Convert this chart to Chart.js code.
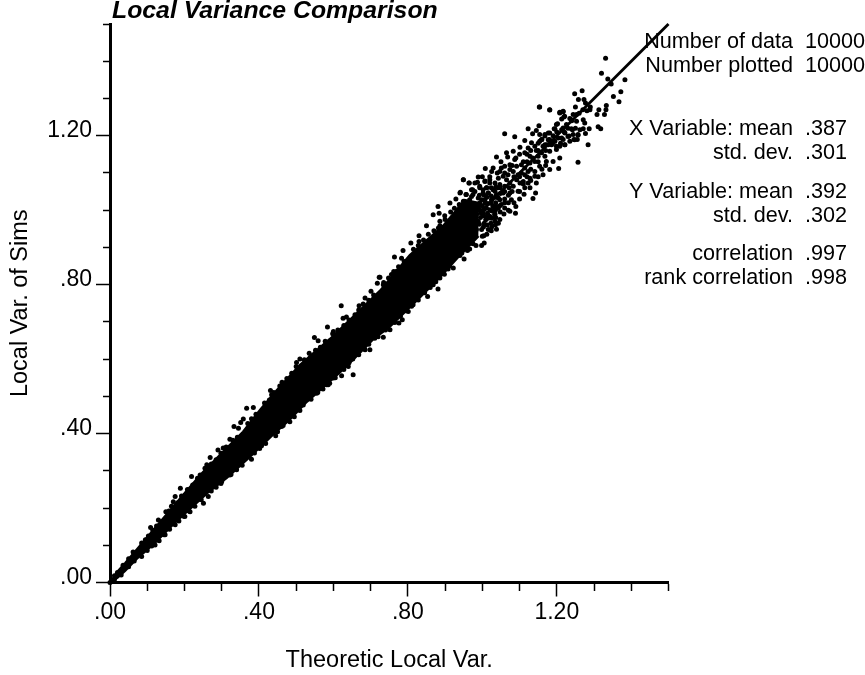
<!DOCTYPE html>
<html>
<head>
<meta charset="utf-8">
<title>Local Variance Comparison</title>
<style>
  html, body { margin: 0; padding: 0; background: #fff; }
  canvas { display: block; }
</style>
<script src="https://cdn.jsdelivr.net/npm/chart.js@4/dist/chart.umd.min.js"></script>
</head>
<body>
<canvas id="chart" width="865" height="675"></canvas>
<script>
const titleText = 'Local Variance Comparison'
const xAxisTitle = 'Theoretic Local Var.'
const yAxisTitle = 'Local Var. of Sims'
const tickLabels = ['.00', '.40', '.80', '1.20']

const statLabels = ['Number of data', 'Number plotted', 'X Variable: mean', 'std. dev.', 'Y Variable: mean', 'std. dev.', 'correlation', 'rank correlation']
const statValues = ['10000', '10000', '.387', '.301', '.392', '.302', '.997', '.998']

// 45 degree reference line
const lineX = [0, 1.5]
const lineY = [0, 1.5]

// edges of the part of the cloud where the dots merge solid
const bodyUpper = [[0,0],[.02,.03],[.04,.052],[.075,.093],[.148,.179],[.201,.241],[.247,.294],[.322,.370],[.357,.405],[.403,.464],[.448,.517],[.510,.585],[.591,.655],[.658,.719],[.725,.784],[.805,.880],[.894,.958],[.953,1.028],[.99,1.02]]
const bodyLower = [[0,0],[.02,.012],[.04,.03],[.075,.066],[.121,.106],[.174,.160],[.263,.241],[.314,.281],[.376,.337],[.438,.397],[.483,.437],[.529,.485],[.617,.563],[.658,.603],[.706,.652],[.752,.687],[.832,.765],[.886,.819],[.934,.872],[.99,.93]]

// dots that break up the two edges
const edgeUpper = [[.012,.018],[.02,.027],[.035,.046],[.05,.064],[.062,.082],[.085,.106],[.095,.115],[.115,.14],[.125,.152],[.138,.163],[.158,.192],[.165,.205],[.182,.214],[.192,.232],[.208,.25],[.222,.262],[.235,.28],[.258,.303],[.272,.318],[.285,.33],[.298,.347],[.312,.364],[.33,.382],[.342,.39],[.37,.427],[.38,.44],[.392,.452],[.415,.482],[.428,.49],[.44,.51],[.462,.538],[.475,.548],[.488,.562],[.5,.58],[.522,.598],[.538,.605],[.552,.624],[.565,.632],[.578,.648],[.598,.668],[.612,.678],[.628,.69],[.642,.705],[.668,.732],[.68,.748],[.695,.758],[.708,.772],[.735,.806],[.748,.818],[.762,.835],[.775,.848],[.79,.862],[.815,.895],[.828,.905],[.842,.92],[.855,.935],[.87,.945],[.882,.952],[.9,.975],[.915,.995],[.925,1.005],[.938,1.015]]
const edgeLower = [[.012,.008],[.03,.02],[.05,.042],[.065,.058],[.085,.07],[.1,.086],[.112,.098],[.132,.112],[.145,.128],[.16,.143],[.185,.165],[.198,.178],[.212,.192],[.228,.205],[.245,.222],[.272,.246],[.285,.256],[.298,.266],[.325,.29],[.34,.303],[.355,.315],[.388,.348],[.402,.36],[.418,.373],[.45,.405],[.465,.422],[.495,.445],[.51,.462],[.54,.492],[.558,.51],[.572,.52],[.59,.535],[.605,.55],[.628,.572],[.642,.59],[.668,.612],[.682,.632],[.695,.64],[.72,.66],[.74,.678],[.765,.698],[.78,.715],[.795,.73],[.81,.742],[.845,.778],[.86,.792],[.875,.808],[.898,.828],[.912,.85],[.945,.885],[.96,.892],[.975,.91]]

// single dots, x then y
const simsLow = [[0,0],[.219,.285],[.189,.253],[.175,.231],[.170,.217],[.150,.190],[.130,.168],[.109,.148],[.260,.316],[.103,.125],[.215,.190],[.264,.231],[.175,.155],[.121,.101],[.300,.271],[.251,.213],[.201,.177],[.148,.128],[.255,.307],[.242,.289],
  [.501,.591],[.431,.516],[.434,.504],[.456,.528],[.470,.531],[.385,.470],[.367,.468],[.358,.439],[.351,.430],[.333,.419],[.345,.414],[.322,.385],[.290,.356],[.304,.361],[.269,.336],[.582,.531],[.445,.394],[.407,.367],[.380,.331],[.519,.477],[.483,.432],[.555,.508],[.461,.419],[.322,.289]]
const simsMid = [[.723,.820],[.718,.804],[.701,.782],[.669,.743],[.621,.743],[.685,.764],[.635,.713],[.626,.710],[.584,.686],[.600,.674],[.549,.658],[.559,.649],[.535,.616],[.510,.600],[.734,.659],[.776,.697],[.785,.706],[.801,.728],[.814,.746],[.828,.759],[.752,.679],[.734,.679],[.698,.625],[.685,.625],[.653,.558],[.622,.555],[.586,.531],[.640,.580],[.652,.600],[.770,.836],[.756,.827],[.734,.800],[.658,.719],[.711,.656],[.617,.571],[.600,.549]]
const simsUpper = [[.881,1.010],[.868,.988],[.884,.992],[.886,.970],[.886,.958],[.850,.958],[.830,.931],[.830,.916],[.808,.912],[.787,.892],[.764,.874],[.783,.871],[.725,.820],[.913,1.019],[.929,1.030],[.941,1.048],[.949,1.082],[.964,1.073],[.987,1.075],[.993,1.060],[.974,1.055],[1.007,1.078],[1.020,1.073],[.899,.985],[.957,1.042],[.971,1.037],
  [.951,.869],[1.005,.912],[1.034,.990],[1.043,.965],[1.038,.949],[1.020,.983],[1.023,.965],[1.004,.931],[.983,.905],[.940,.878],[.908,.842],[.881,.788],[.853,.768],[.868,.800],[.886,.818],[.998,.905],[.966,.896],[.922,.845],
  [1.002,1.055],[1.016,1.046],[1.034,1.051],[1.043,1.033],[1.025,1.028],[1.007,1.028],[.993,1.019],[1.011,1.006],[1.029,1.010],[1.043,1.006],[.998,.992],[1.009,.974],[.989,.970],[.984,.948],[.998,.948],[1.016,.948],[1.034,.970],
  [.992,.962],[.995,.98],[.992,1.0],[.99,1.01],[.992,1.04],[1.0,.93],[1.003,.955],[1.005,.965],[1.003,.985],[1.005,1.002],[1.0,1.012],[1.005,1.04],[1.012,.935],[1.013,.96],[1.015,.978],[1.014,.992],[1.015,1.018],[1.012,1.035],[1.012,1.06],[1.024,.945],[1.025,.955],[1.025,.978],[1.026,.998],[1.024,1.018],[1.024,1.038],[1.024,1.06],[1.035,.96],[1.036,.98],[1.035,1.0],[1.036,1.02],[1.035,1.035],[1.036,1.062],[1.047,.975],[1.048,.995],[1.047,1.012],[1.048,1.045],[1.048,1.06],[1.058,.99],[1.06,1.03],[1.06,1.05],[1.07,1.0],[1.07,1.02],[1.072,1.06],[1.085,1.02],[1.085,1.09],[1.1,1.05],[1.105,1.1],[1.12,1.13],[1.135,1.14],[1.15,1.16]]
const simsHigh = [[1.153,1.277],[1.181,1.270],[1.208,1.263],[1.217,1.266],[1.221,1.252],[1.253,1.257],[1.239,1.243],[1.213,1.245],[1.202,1.232],[1.152,1.227],[1.123,1.219],[1.060,1.205],[1.087,1.197],[1.145,1.214],[1.135,1.205],[1.168,1.203],[1.181,1.207],[1.195,1.218],[1.213,1.216],[1.226,1.230],[1.242,1.216],[1.257,1.203],[1.248,1.189],[1.230,1.198],[1.204,1.194],[1.154,1.185],[1.177,1.189],[1.114,1.187],[1.101,1.169],[1.083,1.158],[1.065,1.154],[1.068,1.143],[1.038,1.143],[1.132,1.181],[1.141,1.172],[1.163,1.172],[1.186,1.176],[1.221,1.176],[1.181,1.158],[1.199,1.163],[1.208,1.140],[1.205,1.112],[1.257,1.129],[1.114,1.154],[1.128,1.145],[1.150,1.145],[1.168,1.145],[1.087,1.136],[1.074,1.122],[1.051,1.113],[1.029,1.113],[1.025,1.104],[1.008,1.112],[.989,1.089],[.949,1.082],[.965,1.073],[.980,1.073],[1.007,1.077],[1.020,1.082],[1.056,1.091],[1.083,1.104],[1.105,1.122],[1.128,1.127],[1.154,1.118],[1.181,1.109],[1.163,1.095],[1.145,1.073],[1.128,1.060],[1.143,1.046],[1.112,1.043],[1.136,1.031],[1.065,1.082],[1.042,1.060],[1.101,1.073],[1.083,1.064],[1.056,1.046],[1.078,1.028],[1.060,1.006],[1.074,.997],[1.089,.992],[1.033,.988],[1.020,.983],[.993,1.064],[.971,1.055],[.975,1.042],[.940,1.046],[.956,1.042],[.989,1.033],[1.016,1.046],[1.025,1.028],[1.047,1.028],[1.007,1.019],[.966,1.010],[.980,1.001],[.953,1.001],[1.002,.992],[1.038,1.010],
  [1.047,1.104],[1.060,1.118],[1.074,1.109],[1.092,1.118],[1.114,1.113],[1.123,1.104],[1.141,1.104],[1.141,1.091],[1.128,1.086],[1.114,1.095],[1.096,1.095],[1.069,1.095],[1.043,1.086],[1.034,1.073],[1.047,1.069],[1.060,1.064],[1.074,1.073],[1.092,1.082],[1.110,1.077],[1.123,1.073],[1.114,1.060],[1.096,1.051],[1.074,1.046],[1.038,1.042],[1.029,1.055],[1.011,1.060],[1.002,1.046],[.998,1.028],[.984,1.015],[.966,1.028],[.949,1.024],[1.029,1.010],[1.051,1.015],[1.020,1.001],[.993,1.001],[.966,.992],[.980,.983],[.953,.983],[.940,1.010],[1.011,.983],[1.159,1.154],[1.172,1.131],[1.190,1.131],[1.141,1.131],[1.123,1.167],[1.154,1.203],[1.172,1.176],[1.195,1.185],[1.213,1.194],[1.235,1.185],[1.208,1.172],[1.244,1.203],
  [1.1,1.15],[1.11,1.13],[1.12,1.15],[1.13,1.16],[1.145,1.16],[1.15,1.18],[1.16,1.19],[1.17,1.16],[1.18,1.19],[1.19,1.2],[1.2,1.21],[1.21,1.18],[1.22,1.21],[1.23,1.22],[1.24,1.24],[1.25,1.22],[1.26,1.26],[1.27,1.27],[1.05,1.13],[1.06,1.1],[1.08,1.12],[1.09,1.14],[1.1,1.09],[1.12,1.09],[1.13,1.11],[1.15,1.13],[1.16,1.11],[1.17,1.12],[1.08,1.05],[1.1,1.03],[1.09,1.01],[1.11,1.07],[1.07,1.04],[1.06,1.02],[1.13,1.08],[1.15,1.09],[1.04,1.1],[1.02,1.09],[1.0,1.09],[.98,1.05]]
const simsTop = [[1.331,1.408],[1.320,1.368],[1.337,1.352],[1.346,1.339],[1.383,1.350],[1.248,1.313],[1.268,1.321],[1.372,1.318],[1.352,1.305],[1.367,1.291],[1.258,1.297],[1.273,1.297],[1.277,1.288],[1.250,1.277],[1.290,1.277],[1.289,1.270],[1.281,1.267],[1.333,1.281],[1.332,1.270],[1.313,1.270],[1.308,1.257],[1.328,1.257],[1.181,1.269],[1.154,1.277],[1.208,1.261],[1.217,1.264],[1.219,1.250],[1.235,1.246],[1.244,1.257],[1.253,1.239],[1.271,1.243],[1.275,1.234],[1.199,1.230],[1.193,1.219],[1.177,1.207],[1.217,1.221],[1.222,1.207],[1.239,1.219],[1.262,1.216],[1.271,1.219],[1.287,1.219],[1.311,1.224],[1.318,1.219],[1.277,1.206],[1.257,1.201],[1.233,1.199],[1.246,1.190],[1.255,1.190],[1.168,1.199],[1.159,1.190],[1.181,1.188],[1.217,1.190],[1.222,1.176],[1.284,1.176],[1.199,1.172],[1.177,1.176],[1.168,1.176],[1.190,1.181]]

const toXY = pairs => pairs.map(([x, y]) => ({ x, y }))
const sims = [].concat(edgeUpper, edgeLower, simsLow, simsMid, simsUpper, simsHigh, simsTop)
const family = '"Liberation Sans", Arial, sans-serif'

// title and the summary block to the right of the plot
const textBlock = {
  id: 'textBlock',
  afterDraw(chart) {
    const ctx = chart.ctx
    const baselines = [48, 72, 135, 159, 198, 222, 260, 284]
    ctx.save()
    ctx.fillStyle = '#000'
    ctx.textBaseline = 'alphabetic'
    ctx.font = 'italic bold 24.8px ' + family
    ctx.textAlign = 'left'
    ctx.fillText(titleText, 112, 18)
    ctx.font = '21.6px ' + family
    statLabels.forEach((label, i) => {
      ctx.textAlign = 'right'
      ctx.fillText(label, 793, baselines[i])
      ctx.textAlign = 'left'
      ctx.fillText(statValues[i], 805, baselines[i])
    })
    ctx.restore()
  }
}

function axisOptions(text, titlePadding, fit) {
  return {
    type: 'linear',
    min: 0,
    max: 1.5,
    afterFit: fit,
    border: { display: true, color: '#000', width: 3 },
    grid: {
      drawOnChartArea: false,
      color: '#000',
      tickColor: '#000',
      tickWidth: 1.5,
      tickLength: 14
    },
    ticks: {
      stepSize: 0.1,
      autoSkip: false,
      maxRotation: 0,
      color: '#000',
      font: { family, size: 23 },
      callback: (v, i) => (i % 4 === 0 ? tickLabels[i / 4] : '')
    },
    title: { display: true, text, color: '#000', font: { family, size: 23.5 }, padding: titlePadding }
  }
}

const x = axisOptions(xAxisTitle, { top: 0, bottom: 0 }, s => { s.height = 92.5 })
x.grid.tickBorderDash = c => (c.index % 4 === 0 ? [] : [7, 7])
x.ticks.padding = 2

const y = axisOptions(yAxisTitle, { top: 6, bottom: 0 }, s => { s.width = 110 })
// ticks on the left axis are stroked from the outer end, so offset the dash
y.grid.tickBorderDash = c => (c.index % 4 === 0 ? [] : [7, 7])
y.grid.tickBorderDashOffset = c => (c.index % 4 === 0 ? 0 : 7)
y.ticks.padding = 4
// the blank second line lifts the labels a little above their ticks
y.ticks.font = { family, size: 23, lineHeight: 0.4 }
y.ticks.callback = (v, i) => (i % 4 === 0 ? [tickLabels[i / 4], ''] : '')

new Chart(document.getElementById('chart'), {
  type: 'scatter',
  data: {
    datasets: [
      { data: toXY(lineX.map((v, i) => [v, lineY[i]])), showLine: true, borderColor: '#000', borderWidth: 2.8, pointRadius: 0, clip: false },
      { data: toXY(sims), backgroundColor: '#000', borderWidth: 0, pointRadius: 2.5, clip: false },
      { data: toXY(bodyUpper), showLine: true, borderColor: '#000', borderWidth: 2, backgroundColor: '#000', pointRadius: 0, fill: '+1', clip: false },
      { data: toXY(bodyLower), showLine: true, borderColor: '#000', borderWidth: 2, pointRadius: 0, clip: false }
    ]
  },
  options: {
    responsive: false,
    animation: false,
    layout: { padding: { top: 24, right: 196.5, left: 0, bottom: 0 } },
    plugins: { legend: { display: false }, tooltip: { enabled: false } },
    scales: { x, y }
  },
  plugins: [textBlock]
})
</script>
</body>
</html>
